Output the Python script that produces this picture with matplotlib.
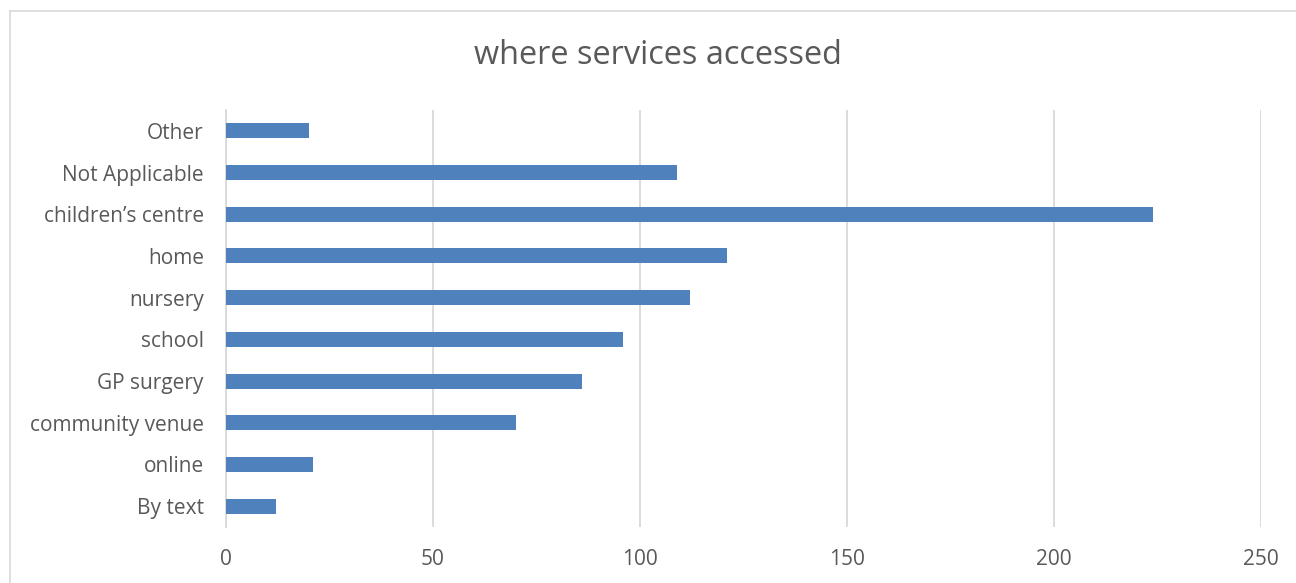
import matplotlib.pyplot as plt
from matplotlib.lines import Line2D

# Data (bottom to top)
categories = ["By text", "online", "community venue", "GP surgery", "school",
              "nursery", "home", "children\u2019s centre", "Not Applicable", "Other"]
counts = [12, 21, 70, 86, 96, 112, 121, 224, 109, 20]
x_ticks = [0, 50, 100, 150, 200, 250]

BAR_COLOR = "#4F81BD"
GRID_COLOR = "#D9D9D9"
TEXT_COLOR = "#595959"

plt.rcParams['font.family'] = ['Open Sans', 'DejaVu Sans']

W, H = 1296, 583
fig = plt.figure(figsize=(W / 100, H / 100), dpi=100)

# outer chart border (only top and left edges are visible in the crop)
fig.lines.append(Line2D([10 / W, 1], [1 - 11 / H, 1 - 11 / H],
                        transform=fig.transFigure, color=GRID_COLOR, linewidth=1.2))
fig.lines.append(Line2D([10 / W, 10 / W], [0, 1 - 11 / H],
                        transform=fig.transFigure, color=GRID_COLOR, linewidth=1.2))

left, right = 226 / W, 1261 / W
top, bottom = 1 - 110 / H, 1 - 527 / H
ax = fig.add_axes([left, bottom, right - left, top - bottom])

ax.barh(range(len(categories)), counts, height=0.36, color=BAR_COLOR, zorder=3)

ax.set_xlim(0, 250)
ax.set_ylim(-0.5, len(categories) - 0.5)
ax.set_xticks(x_ticks)
ax.set_yticks(range(len(categories)))
ax.set_yticklabels(categories)

ax.grid(axis="x", color=GRID_COLOR, linewidth=1.3, zorder=0)
for side in ["top", "right", "bottom"]:
    ax.spines[side].set_visible(False)
ax.spines["left"].set_color(GRID_COLOR)
ax.spines["left"].set_linewidth(1.3)

ax.tick_params(axis="both", length=0, labelsize=15, colors=TEXT_COLOR)
ax.tick_params(axis="x", pad=16)
ax.tick_params(axis="y", pad=16)

fig.text(658 / W, 1 - 56 / H, "where services accessed", ha="center", va="center",
         fontsize=23.4, color=TEXT_COLOR)

fig.savefig("out.png", dpi=100)
